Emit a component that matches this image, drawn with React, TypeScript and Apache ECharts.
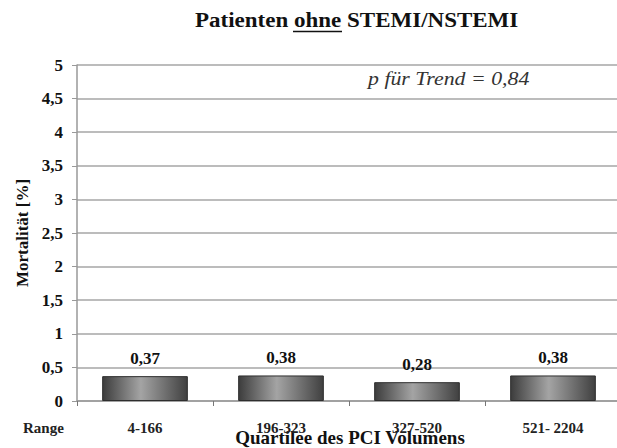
import React, { useEffect, useRef } from "react";
import * as echarts from "echarts";

const categories = ["4-166", "196-323", "327-520", "521- 2204"];
const mortality = [0.37, 0.38, 0.28, 0.38];
const titleText = "Patienten {u|ohne} STEMI/NSTEMI";
const trendText = "p für Trend = 0,84";
const yAxisName = "Mortalität [%]";
const xAxisName = "Quartilee des PCI Volumens";
const rangeLabel = "Range";

const SERIF = "Liberation Serif";

export default function App() {
  const ref = useRef<HTMLDivElement>(null);
  useEffect(() => {
    if (!ref.current) return;
    const chart = echarts.init(ref.current, null, { renderer: "svg" });
    const comma = (v: number) => String(v).replace(".", ",");
    chart.setOption({
      animation: false,
      backgroundColor: "#ffffff",
      grid: { left: 77, right: -4, top: 65, bottom: 47, outerBoundsMode: "none", containLabel: false },
      xAxis: {
        type: "category",
        data: categories,
        axisLine: { lineStyle: { color: "#999", width: 1.5 } },
        axisTick: { show: true, length: 5, lineStyle: { color: "#777" } },
        axisLabel: { fontFamily: SERIF, fontWeight: "bold", fontSize: 15, color: "#222", margin: 19 },
      },
      yAxis: {
        type: "value",
        min: 0,
        max: 5,
        interval: 0.5,
        name: yAxisName,
        nameLocation: "middle",
        nameGap: 46,
        nameRotate: 90,
        nameTextStyle: { fontFamily: SERIF, fontWeight: "bold", fontSize: 17, color: "#111" },
        axisLine: { show: true, lineStyle: { color: "#999", width: 1.5 } },
        axisTick: { show: true, length: 5, lineStyle: { color: "#999" } },
        axisLabel: { fontFamily: SERIF, fontWeight: "bold", fontSize: 17, color: "#111", margin: 14, formatter: (v: number) => comma(v) },
        splitLine: { lineStyle: { color: "#a6a6a6", width: 1.5 } },
      },
      series: [
        {
          type: "bar",
          data: mortality,
          barCategoryGap: "37%",
          itemStyle: {
            color: new echarts.graphic.LinearGradient(0, 0, 1, 0, [
              { offset: 0, color: "#3c3c3c" },
              { offset: 0.45, color: "#a4a4a4" },
              { offset: 1, color: "#404040" },
            ]),
            borderColor: "#2e2e2e",
            borderWidth: 1,
          },
          label: {
            show: true,
            position: "top",
            distance: 9,
            fontFamily: SERIF,
            fontWeight: "bold",
            fontSize: 17,
            color: "#111",
            formatter: (p: any) => p.value.toFixed(2).replace(".", ","),
          },
        },
      ],
      graphic: [
        {
          type: "text",
          x: 195,
          y: 21,
          scaleX: 1.15,
          style: {
            text: titleText,
            align: "left",
            verticalAlign: "middle",
            fontFamily: SERIF,
            fontWeight: "bold",
            fontSize: 20,
            fill: "#111",
            rich: { u: { fontFamily: SERIF, fontWeight: "bold", fontSize: 20, fill: "#111" } },
          } as any,
        },
        {
          type: "line",
          shape: { x1: 293, y1: 31.5, x2: 342, y2: 31.5 },
          style: { stroke: "#111", lineWidth: 1.5 },
        },
        {
          type: "text",
          x: 368,
          y: 79,
          scaleX: 1.15,
          style: {
            text: trendText,
            align: "left",
            verticalAlign: "middle",
            fontFamily: SERIF,
            fontStyle: "italic",
            fontSize: 19,
            fill: "#333",
          },
        },
        {
          type: "text",
          x: 23,
          y: 428,
          style: {
            text: rangeLabel,
            align: "left",
            verticalAlign: "middle",
            fontFamily: SERIF,
            fontWeight: "bold",
            fontSize: 15,
            fill: "#222",
          },
        },
        {
          type: "text",
          x: 350,
          y: 437,
          style: {
            text: xAxisName,
            align: "center",
            verticalAlign: "middle",
            fontFamily: SERIF,
            fontWeight: "bold",
            fontSize: 19,
            fill: "#111",
          },
        },
      ],
    });
    return () => chart.dispose();
  }, []);
  return (
    <div
      ref={ref}
      style={{ position: "absolute", left: 0, top: 0, width: 617, height: 448 }}
    />
  );
}
